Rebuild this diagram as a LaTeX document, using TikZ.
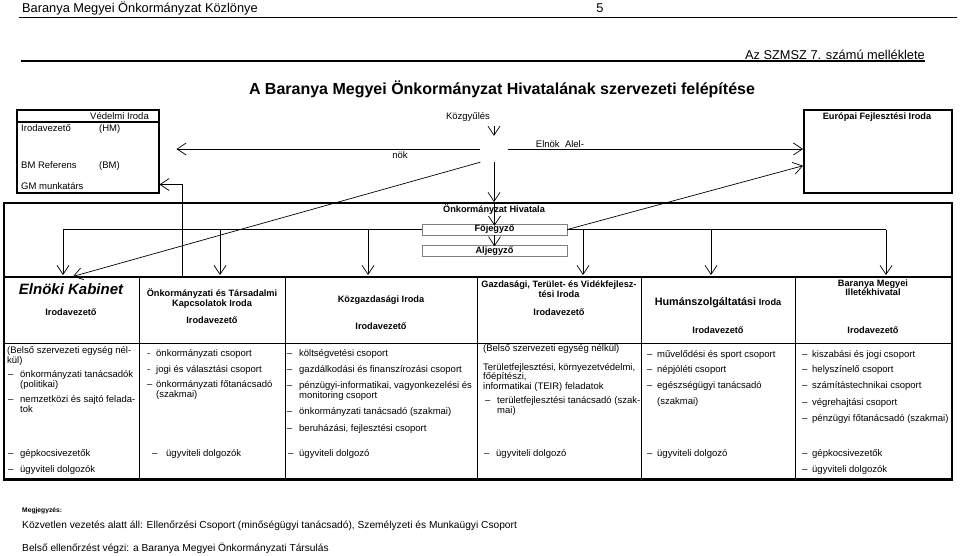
\documentclass[tikz,border=0pt]{standalone}
\usepackage{fontspec}
\setmainfont{Liberation Sans}
\usetikzlibrary{arrows.meta,calc,positioning}

\newcommand{\tetel}[2][12pt]{\makebox[#1][l]{–}#2}

\tikzset{
  nyil/.style={-{Straight Barb[length=9pt,width=12pt]}, line width=0.7pt},
  keret/.style={draw, line width=1.5pt, inner sep=0pt},
  szoveg/.style={inner sep=0pt, font=\fontsize{9.5}{11}\selectfont},
  fszoveg/.style={inner sep=0pt, font=\bfseries\fontsize{9.2}{11}\selectfont},
  sor/.style={szoveg, anchor=base west},
  fej/.style={fszoveg, anchor=base},
  jegyzo/.style={draw=gray, line width=0.6pt, minimum width=145pt, minimum height=11pt, inner sep=0pt, fszoveg},
  cella/.style={inner sep=0pt, minimum height=66pt},
}

\begin{document}
\begin{tikzpicture}[x=1pt,y=-1pt]
      \useasboundingbox (0,0) rectangle (960,555);
      % Page header
      \node[szoveg, anchor=base west, font=\fontsize{12.8}{14}\selectfont] (kozlony) at (22,12.5) {Baranya Megyei Önkormányzat Közlönye};
      \node[szoveg, anchor=base, font=\fontsize{12.8}{14}\selectfont] (oldalszam) at (600,12.5) {5};
      \draw[line width=0.8pt] (19,17) -- (957,17);
      \node[szoveg, anchor=base east, font=\fontsize{12.8}{14}\selectfont] (melleklet) at (925,59.5) {Az SZMSZ 7. számú melléklete};
      \draw[line width=1.4pt] (21,61) -- (925,61);
      \node[fszoveg, anchor=base, font=\bfseries\fontsize{16}{18}\selectfont] (cim) at (502,94) {A Baranya Megyei Önkormányzat Hivatalának szervezeti felépítése};
      % Vedelmi Iroda
      \node[keret, minimum width=142pt, minimum height=83pt, anchor=north west] (vedelmi) at (16,109) {};
      \draw[line width=1.5pt] ($(vedelmi.north west)+(0,13)$) -- ($(vedelmi.north east)+(0,13)$);
      \node[szoveg, anchor=base east] (vedelmiCim) at (149,119.5) {Védelmi Iroda};
      \node[sor] (hmVezeto) at (21,131) {Irodavezető};
      \node[sor] (hmJel) at (99,131) {(HM)};
      \node[sor] (bmReferens) at (21,168.5) {BM Referens};
      \node[sor] (bmJel) at (99,168.5) {(BM)};
      \node[sor] (gmMunkatars) at (21,189) {GM munkatárs};
      % Europai Fejlesztesi Iroda
      \node[keret, minimum width=148pt, minimum height=83pt, anchor=north west] (europai) at (803,109) {};
      \node[fej] (europaiCim) at (877,119.5) {Európai Fejlesztési Iroda};
      % Kozgyules, Elnok
      \node[szoveg, anchor=base] (kozgyules) at (468,119.5) {Közgyűlés};
      \node[minimum width=27pt, minimum height=26pt, inner sep=0pt] (elnok) at (494,149) {};
      \node[szoveg, anchor=base] (elnokFelso) at (560,147.5) {Elnök\ \ Alel-};
      \node[szoveg, anchor=base] (elnokAlso) at (400,158) {nök};
      % Hivatal
      \node[keret, minimum width=948pt, minimum height=276pt, anchor=north west] (hivatal) at (3,202) {};
      \node[fej] (hivatalCim) at (494,212.5) {Önkormányzat Hivatala};
      \node[jegyzo] (fojegyzo) at (494.5,229.5) {Főjegyző};
      \node[jegyzo, below=10pt of fojegyzo] (aljegyzo) {Aljegyző};
      % Header cells of the table
      \foreach \i/\kozep/\szel in {1/71/136, 2/212/146, 3/381/192, 4/559/164, 5/718/154, 6/873/156}
        \node[cella, minimum width=\szel, anchor=north] (fej\i) at (\kozep,277) {};
      \draw[line width=1.5pt] (fej1.north west) -- (fej6.north east);
      \draw[line width=1.4pt] (fej1.south west) -- (fej6.south east);
      \foreach \i in {1,...,5}
        \draw[line width=0.7pt] (fej\i.north east) -- (fej\i.north east |- hivatal.south);
      \draw[line width=2.5pt] (hivatal.south west) -- (hivatal.south east);
      % Arrows
      \draw[nyil, shorten <=6pt] (kozgyules.base -| elnok.north) -- (elnok.north);
      \draw[nyil, shorten >=17pt] (elnok.west) -- (elnok.west -| vedelmi.east);
      \draw[nyil] (elnok.east) -- (elnok.east -| europai.west);
      \draw[nyil] (elnok.south) -- (elnok.south |- hivatal.north);
      \draw[nyil, shorten >=2pt] (elnok.south west) -- (fej1.north);
      \draw[nyil, shorten >=-2pt] (hivatal.north -| fojegyzo.north) -- (fojegyzo.north);
      \draw[nyil, shorten >=-1pt] (fojegyzo.south) -- (aljegyzo.north);
      \draw[nyil] (fojegyzo.east) -- ([yshift=-14.5pt]europai.west);
      \draw[nyil] ([xshift=44pt]fej2.north west) |- ([yshift=9pt]vedelmi.south east);
      \foreach \i/\x in {1/63, 2/220, 3/368, 4/583, 5/711, 6/886}
        \coordinate (ag\i) at (\x,229.5);
      \draw[line width=0.7pt] (fojegyzo.west) -- (ag1);
      \draw[line width=0.7pt] (fojegyzo.east) -- (ag6);
      \foreach \i in {1,...,6}
        \draw[nyil, shorten >=2pt] (ag\i) -- (ag\i |- fej1.north);
      % Column headings
      \node[anchor=base, inner sep=0pt, font=\bfseries\itshape\fontsize{15}{17}\selectfont] (kabinetCim) at (71,294) {Elnöki Kabinet};
      \node[fej] (kabinetVezeto) at (71,315.5) {Irodavezető};
      \node[fej] (kapcsolatCim1) at (212,296.5) {Önkormányzati és Társadalmi};
      \node[fej] (kapcsolatCim2) at (212,306.5) {Kapcsolatok Iroda};
      \node[fej] (kapcsolatVezeto) at (212,323.5) {Irodavezető};
      \node[fej] (kozgazdCim) at (381,302.5) {Közgazdasági Iroda};
      \node[fej] (kozgazdVezeto) at (381,329.5) {Irodavezető};
      \node[fej] (gazdasagiCim1) at (559,287.5) {Gazdasági, Terület- és Vidékfejlesz-};
      \node[fej] (gazdasagiCim2) at (559,297.5) {tési Iroda};
      \node[fej] (gazdasagiVezeto) at (559,315.5) {Irodavezető};
      \node[fej] (humanCim) at (718,305) {{\fontsize{10.8}{12}\selectfont Humánszolgáltatási} Iroda};
      \node[fej] (humanVezeto) at (718,333.5) {Irodavezető};
      \node[fej] (illetekCim1) at (873,286.5) {Baranya Megyei};
      \node[fej] (illetekCim2) at (873,295.5) {Illetékhivatal};
      \node[fej] (illetekVezeto) at (873,333.5) {Irodavezető};
      % Elnoki Kabinet
      \node[sor] (kabinet1) at (7,353) {(Belső szervezeti egység nél-};
      \node[sor] (kabinet2) at (7,363) {kül)};
      \node[sor] (kabinet3) at (8,377.5) {\tetel{önkormányzati tanácsadók}};
      \node[sor] (kabinet4) at (20,387.5) {(politikai)};
      \node[sor] (kabinet5) at (8,402.5) {\tetel{nemzetközi és sajtó felada-}};
      \node[sor] (kabinet6) at (20,412.5) {tok};
      % Kapcsolatok Iroda
      \node[sor] (kapcsolat1) at (147,356) {\makebox[9pt][l]{-}önkormányzati csoport};
      \node[sor] (kapcsolat2) at (147,372) {\makebox[9pt][l]{-}jogi és választási csoport};
      \node[sor] (kapcsolat3) at (147,387.5) {\tetel[9pt]{önkormányzati főtanácsadó}};
      \node[sor] (kapcsolat4) at (156,397.5) {(szakmai)};
      % Kozgazdasagi Iroda
      \node[sor] (kozgazd1) at (287,356.5) {\tetel{költségvetési csoport}};
      \node[sor] (kozgazd2) at (287,372.5) {\tetel{gazdálkodási és finanszírozási csoport}};
      \node[sor] (kozgazd3) at (287,388) {\tetel{pénzügyi-informatikai, vagyonkezelési és}};
      \node[sor] (kozgazd4) at (299,398) {monitoring csoport};
      \node[sor] (kozgazd5) at (287,414.5) {\tetel{önkormányzati tanácsadó (szakmai)}};
      \node[sor] (kozgazd6) at (287,431) {\tetel{beruházási, fejlesztési csoport}};
      % Gazdasagi Iroda
      \node[sor] (gazdasagi1) at (483,351) {(Belső szervezeti egység nélkül)};
      \node[sor] (gazdasagi2) at (483,370) {Területfejlesztési, környezetvédelmi,};
      \node[sor] (gazdasagi3) at (483,379.5) {főépítészi,};
      \node[sor] (gazdasagi4) at (483,389) {informatikai (TEIR) feladatok};
      \node[sor] (gazdasagi5) at (485,403.5) {\tetel[12pt]{területfejlesztési tanácsadó (szak-}};
      \node[sor] (gazdasagi6) at (497,413.5) {mai)};
      % Humanszolgaltatasi Iroda
      \node[sor] (human1) at (647,357) {\tetel[10pt]{művelődési és sport csoport}};
      \node[sor] (human2) at (647,372.5) {\tetel[10pt]{népjóléti csoport}};
      \node[sor] (human3) at (647,388.5) {\tetel[10pt]{egészségügyi tanácsadó}};
      \node[sor] (human4) at (657,404) {(szakmai)};
      % Illetekhivatal
      \node[sor] (illetek1) at (802,357) {\tetel[10pt]{kiszabási és jogi csoport}};
      \node[sor] (illetek2) at (802,372.5) {\tetel[10pt]{helyszínelő csoport}};
      \node[sor] (illetek3) at (802,388.5) {\tetel[10pt]{számítástechnikai csoport}};
      \node[sor] (illetek4) at (802,405) {\tetel[10pt]{végrehajtási csoport}};
      \node[sor] (illetek5) at (802,421) {\tetel[10pt]{pénzügyi főtanácsadó (szakmai)}};
      % Staff row
      \node[sor] (also1a) at (8,456.5) {\tetel{gépkocsivezetők}};
      \node[sor] (also1b) at (8,472.5) {\tetel{ügyviteli dolgozók}};
      \node[sor] (also2) at (152,456.5) {\tetel[14pt]{ügyviteli dolgozók}};
      \node[sor] (also3) at (288,456.5) {\tetel[11pt]{ügyviteli dolgozó}};
      \node[sor] (also4) at (484,456.5) {\tetel{ügyviteli dolgozó}};
      \node[sor] (also5) at (647,456.5) {\tetel[10pt]{ügyviteli dolgozó}};
      \node[sor] (also6a) at (802,456.5) {\tetel[10pt]{gépkocsivezetők}};
      \node[sor] (also6b) at (802,472.5) {\tetel[10pt]{ügyviteli dolgozók}};
      % Notes
      \node[sor, font=\bfseries\fontsize{6.7}{8}\selectfont] (megjegyzes) at (22,512.5) {Megjegyzés:};
      \node[sor, font=\fontsize{10.2}{12}\selectfont] (kozvetlen) at (22,528) {Közvetlen vezetés alatt áll: Ellenőrzési Csoport (minőségügyi tanácsadó), Személyzeti és Munkaügyi Csoport};
      \node[sor, font=\fontsize{10.2}{12}\selectfont] (belso) at (22,551) {Belső ellenőrzést végzi: a Baranya Megyei Önkormányzati Társulás};
\end{tikzpicture}
\end{document}
